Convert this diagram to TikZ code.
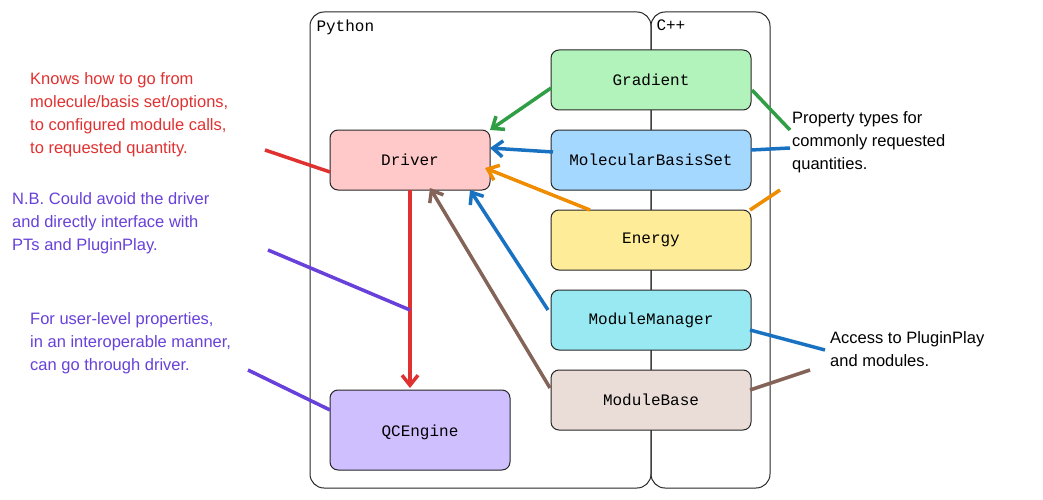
\documentclass[tikz,border=0pt]{standalone}
\usepackage{fontspec}
\usetikzlibrary{arrows.meta}
\setmainfont{Liberation Sans}
\newfontfamily\boxfont{Liberation Mono}
\begin{document}
\begin{tikzpicture}[x=1pt,y=-1pt,
  cont/.style={draw=black!85,rounded corners=14pt,line width=1pt},
  bx/.style={draw=black!85,rounded corners=8pt,line width=1pt},
  lb/.style={font=\boxfont\fontsize{16}{16}\selectfont},
  arr/.style={line width=3.5pt,-{Straight Barb[length=10pt,width=16pt]}},
  ln/.style={line width=3.5pt},
  note/.style={align=left,anchor=north west,font=\fontsize{16.5}{23}\selectfont,inner sep=0pt}]
\useasboundingbox (0,0) rectangle (1043,500);
\definecolor{cred}{HTML}{E03131}\definecolor{cpur}{HTML}{6741D9}
\definecolor{cgrn}{HTML}{2F9E44}\definecolor{cblu}{HTML}{1971C2}
\definecolor{corg}{HTML}{F08C00}\definecolor{cbrn}{HTML}{846358}
\draw[cont] (310,12) rectangle (651,488);
\draw[cont] (651,12) rectangle (770,488);
\node[anchor=north west,lb] (py) at (313,16) {Python};
\node[anchor=north west,lb] (cpp) at (653,16) {C++};
\path[bx,fill={rgb,255:red,178;green,242;blue,187}] (551,50) rectangle (751,110); \node[lb] (g) at (651,80) {Gradient};
\path[bx,fill={rgb,255:red,165;green,216;blue,255}] (551,130) rectangle (751,190); \node[lb] (m) at (651,160) {MolecularBasisSet};
\path[bx,fill={rgb,255:red,255;green,236;blue,153}] (551,210) rectangle (751,270); \node[lb] (e) at (651,240) {Energy};
\path[bx,fill={rgb,255:red,153;green,233;blue,242}] (551,290) rectangle (751,350); \node[lb] (mm) at (651,320) {ModuleManager};
\path[bx,fill={rgb,255:red,234;green,221;blue,215}] (551,370) rectangle (751,430); \node[lb] (mb) at (651,400) {ModuleBase};
\path[bx,fill={rgb,255:red,255;green,201;blue,201}] (330,130) rectangle (490,190); \node[lb] (d) at (410,160) {Driver};
\path[bx,fill={rgb,255:red,208;green,191;blue,255}] (330,390) rectangle (510,470); \node[lb] (q) at (420,432) {QCEngine};
\coordinate (gL) at (551,88); \coordinate (dA) at (490,130);
\draw[arr,cgrn] (gL) -- (dA);
\coordinate (mL) at (553,152); \coordinate (dB) at (490,148);
\draw[arr,cblu] (mL) -- (dB);
\coordinate (eL) at (590,210); \coordinate (dC) at (485,168);
\draw[arr,corg] (eL) -- (dC);
\coordinate (mmL) at (548,310); \coordinate (dD) at (470,190);
\draw[arr,cblu] (mmL) -- (dD);
\coordinate (mbL) at (550,388); \coordinate (dE) at (430,188);
\draw[arr,cbrn] (mbL) -- (dE);
\coordinate (dS) at (410,190); \coordinate (qN) at (410,388);
\draw[arr,cred] (dS) -- (qN);
\node[note,text=cred] (n1) at (30,72) {Knows how to go from\\molecule/basis set/options,\\to configured module calls,\\to requested quantity.};
\node[note,text=cpur] (n2) at (12,192) {N.B. Could avoid the driver\\and directly interface with\\PTs and PluginPlay.};
\node[note,text=cpur] (n3) at (30,312) {For user-level properties,\\in an interoperable manner,\\can go through driver.};
\node[note] (n4) at (792,111) {Property types for\\commonly requested\\quantities.};
\node[note] (n5) at (830,331) {Access to PluginPlay\\and modules.};
\coordinate (a1) at (265,150); \coordinate (a2) at (330,172); \draw[ln,cred] (a1) -- (a2);
\coordinate (b1) at (268,250); \coordinate (b2) at (410,310); \draw[ln,cpur] (b1) -- (b2);
\coordinate (c1) at (248,370); \coordinate (c2) at (330,410); \draw[ln,cpur] (c1) -- (c2);
\coordinate (e1) at (752,90); \coordinate (e2) at (790,130); \draw[ln,cgrn] (e1) -- (e2);
\coordinate (f1) at (751,150); \coordinate (f2) at (790,148); \draw[ln,cblu] (f1) -- (f2);
\coordinate (h1) at (750,210); \coordinate (h2) at (780,190); \draw[ln,corg] (h1) -- (h2);
\coordinate (i1) at (750,330); \coordinate (i2) at (825,350); \draw[ln,cblu] (i1) -- (i2);
\coordinate (j1) at (750,390); \coordinate (j2) at (810,370); \draw[ln,cbrn] (j1) -- (j2);
\end{tikzpicture}
\end{document}
